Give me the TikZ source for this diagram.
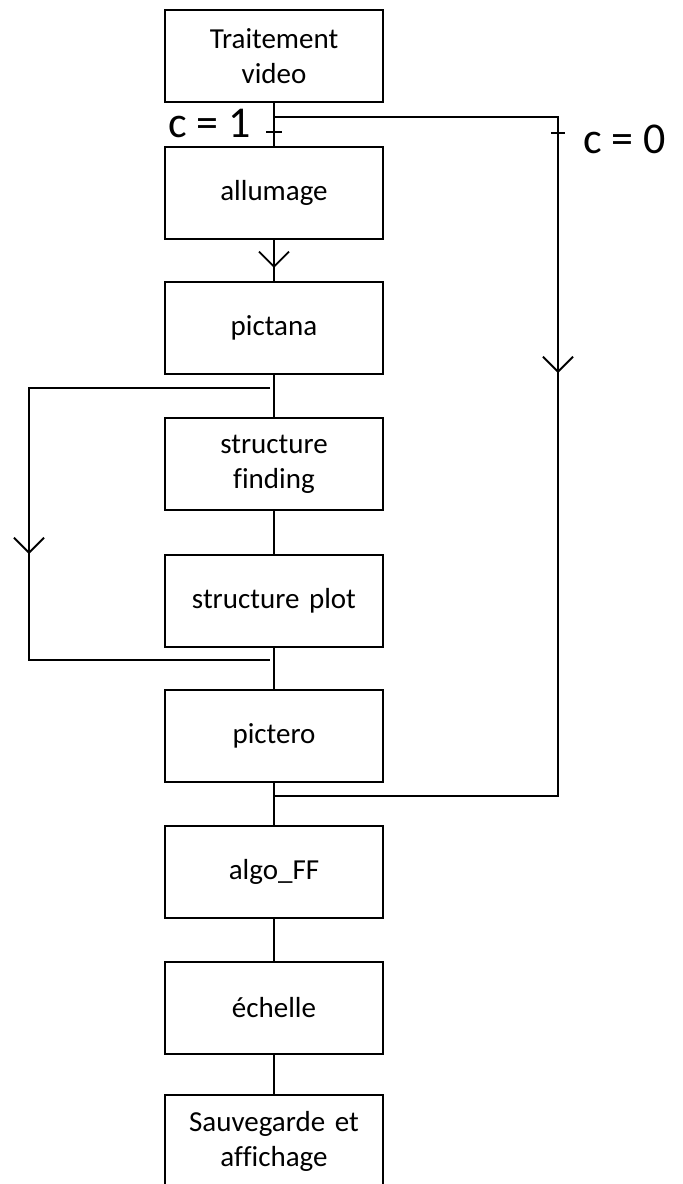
\documentclass[tikz,border=0pt]{standalone}
\usepackage{fontspec}
\setmainfont{Carlito}[Ligatures=NoCommon]
\usetikzlibrary{arrows.meta,decorations.markings}

\tikzset{
  etape/.style={draw, line width=1.9pt, minimum width=218pt, minimum height=92pt,
    text width=200pt, align=center, inner sep=0pt,
    font=\fontsize{29}{35}\selectfont},
  lien/.style={line width=1.9pt},
  fleche/.style={postaction={decorate}, decoration={markings,
    mark=at position #1 with {\arrow{Straight Barb[length=15pt,width=30pt]}}}},
  etiq/.style={inner sep=0pt, anchor=base west, font=\fontsize{44}{50}\selectfont},
}

\begin{document}
\begin{tikzpicture}[x=1pt,y=-1pt]
  \useasboundingbox (0,0) rectangle (683,1184);
  % les etapes
  \node[etape] (video) at (274,56) {Traitement\\video};
  \node[etape] (allumage) at (274,193) {allumage};
  \node[etape] (pictana) at (274,328) {pictana};
  \node[etape] (finding) at (274,464) {structure\\finding};
  \node[etape] (plot) at (274,601) {structure plot};
  \node[etape] (pictero) at (274,736) {pictero};
  \node[etape] (algo) at (274,872) {algo\_FF};
  \node[etape] (echelle) at (274,1008) {échelle};
  \node[etape] (sauve) at (274,1141) {Sauvegarde et\\affichage};
  % chaine principale
  \draw[lien] (video) -- (allumage);
  \draw[lien, fleche=28pt] (allumage) -- (pictana);
  \draw[lien] (pictana) -- (finding);
  \draw[lien] (finding) -- (plot);
  \draw[lien] (plot) -- (pictero);
  \draw[lien] (pictero) -- (algo);
  \draw[lien] (algo) -- (echelle);
  \draw[lien] (echelle) -- (sauve);
  % boucle c = 0
  \coordinate (depart) at (274,117);
  \coordinate (coindroit) at (558,796);
  \coordinate (retour) at (274,796);
  \draw[lien, fleche=540pt] (depart) -| (coindroit) -- (retour);
  % boucle de gauche
  \coordinate (gauchehaut) at (270,388);
  \coordinate (coingauche) at (29,660);
  \coordinate (gauchebas) at (270,660);
  \draw[lien, fleche=407pt] (gauchehaut) -| (coingauche) -- (gauchebas);
  % interrupteurs
  \coordinate (t1) at (274,132);
  \coordinate (t0) at (558,133);
  \draw[lien] ([xshift=-8pt]t1) -- ([xshift=8pt]t1);
  \draw[lien] ([xshift=-7pt]t0) -- ([xshift=7pt]t0);
  \node[etiq] (c1) at (168,137) {c = 1};
  \node[etiq] (c0) at (583,153) {c = 0};
\end{tikzpicture}
\end{document}
